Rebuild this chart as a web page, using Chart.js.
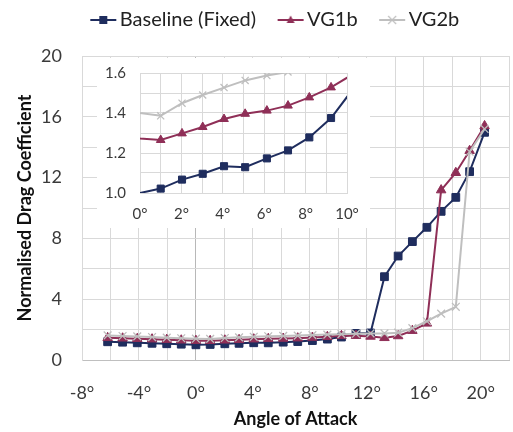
<!DOCTYPE html>
<html>
<head>
<meta charset="utf-8">
<script src="https://cdn.jsdelivr.net/npm/chart.js@4.4.0/dist/chart.umd.min.js"></script>
<style>
  html, body { margin: 0; padding: 0; overflow: hidden; background: #fff; }
  #wrap { position: relative; width: 513px; height: 432px; overflow: hidden; }
  #mainChart { position: absolute; left: 0; top: 0; }
  #insetChart { position: absolute; left: 97px; top: 58px; background: #fff; }
</style>
</head>
<body>
<div id="wrap">
  <canvas id="mainChart" width="516" height="432"></canvas>
  <canvas id="insetChart" width="273" height="170"></canvas>
</div>
<script>
// angle of attack (deg) for every measurement
const angles = [-6.2, -5.15, -4.12, -3.08, -2.05, -1.03, 0, 1.0, 2.03, 3.03, 4.06, 5.08, 6.13, 7.15,
                8.18, 9.23, 10.22, 11.24, 12.26, 13.24, 14.2, 15.2, 16.22, 17.22, 18.25, 19.22, 20.27];
const baseline = [1.20, 1.17, 1.13, 1.10, 1.07, 1.04, 1.00, 1.022, 1.067, 1.096, 1.134, 1.129, 1.173, 1.213,
                  1.278, 1.375, 1.51, 1.75, 1.78, 5.48, 6.84, 7.79, 8.73, 9.78, 10.70, 12.39, 14.98];
const vg1b = [1.46, 1.43, 1.40, 1.37, 1.34, 1.30, 1.273, 1.265, 1.298, 1.33, 1.37, 1.396, 1.412, 1.437,
              1.478, 1.528, 1.59, 1.60, 1.55, 1.46, 1.58, 1.93, 2.41, 11.18, 12.32, 13.77, 15.40];
const vg2b = [1.62, 1.58, 1.55, 1.51, 1.47, 1.43, 1.40, 1.386, 1.449, 1.49, 1.527, 1.563, 1.587, 1.605,
              1.64, 1.67, 1.70, 1.73, 1.75, 1.75, 1.80, 2.10, 2.55, 3.05, 3.50, 13.70, 15.20];

const seriesNames = ['Baseline (Fixed)', 'VG1b', 'VG2b'];
const seriesValues = [baseline, vg1b, vg2b];
const seriesColors = ['#1F2D5E', '#8F2F57', '#BFBFBF'];
const seriesMarkers = ['rect', 'triangle', 'crossRot'];

// labelled ticks (grid lines are drawn at half these steps)
const mainXLabels = [-8, -4, 0, 4, 8, 12, 16, 20];
const mainYLabels = [0, 4, 8, 12, 16, 20];
const insetXLabels = [0, 2, 4, 6, 8, 10];
const insetYLabels = [1.0, 1.2, 1.4, 1.6];

Chart.defaults.font.family = 'Lato, "Open Sans", sans-serif';
Chart.defaults.color = '#3a3a3a';
Chart.defaults.animation = false;

const hasLabel = (list, v) => list.some(l => Math.abs(l - v) < 1e-6);

function legendIcon(color, style) {
  const c = document.createElement('canvas');
  c.width = 48; c.height = 16;
  const g = c.getContext('2d');
  g.strokeStyle = color; g.fillStyle = color; g.lineWidth = 2;
  g.beginPath(); g.moveTo(20, 8); g.lineTo(46, 8); g.stroke();
  const cx = 33, cy = 8;
  if (style === 'rect') {
    g.fillRect(cx - 4, cy - 4, 8, 8);
  } else if (style === 'triangle') {
    g.beginPath(); g.moveTo(cx, cy - 4.5); g.lineTo(cx + 4, cy + 3); g.lineTo(cx - 4, cy + 3); g.closePath(); g.fill();
  } else {
    g.lineWidth = 1.2;
    g.beginPath(); g.moveTo(cx - 4, cy - 4); g.lineTo(cx + 4, cy + 4);
    g.moveTo(cx + 4, cy - 4); g.lineTo(cx - 4, cy + 4); g.stroke();
  }
  return c;
}
const icons = seriesColors.map((c, i) => legendIcon(c, seriesMarkers[i]));

function makeDatasets(radius, hideAtZero) {
  return seriesNames.map((name, i) => ({
    label: name,
    data: angles.map((a, j) => ({ x: a, y: seriesValues[i][j] })),
    showLine: true,
    borderColor: seriesColors[i],
    backgroundColor: seriesColors[i],
    borderWidth: 2,
    pointStyle: seriesMarkers[i],
    pointRadius: hideAtZero ? (ctx => (ctx.raw && ctx.raw.x <= 0 ? 0 : radius)) : radius,
    pointBorderWidth: seriesMarkers[i] === 'crossRot' ? 1.3 : 1,
    pointBackgroundColor: seriesColors[i],
    pointBorderColor: seriesColors[i],
    order: 3 - i
  }));
}

// taller legend box + nudge it right a little
const legendGap = {
  id: 'legendGap',
  beforeInit(chart) {
    const fit = chart.legend.fit;
    chart.legend.fit = function () {
      fit.bind(chart.legend)();
      this.height += 16;
    };
  },
  afterLayout(chart) {
    chart.legend.left += 22;
  }
};

new Chart(document.getElementById('mainChart').getContext('2d'), {
  type: 'scatter',
  data: { datasets: makeDatasets(5.5, false) },
  plugins: [legendGap],
  options: {
    responsive: false,
    layout: { padding: 0 },
    plugins: {
      tooltip: { enabled: false },
      legend: {
        position: 'top',
        labels: {
          font: { size: 20 },
          color: '#222',
          usePointStyle: true,
          pointStyleWidth: 31,
          boxHeight: 12,
          padding: 10,
          generateLabels: () => seriesNames.map((name, i) => ({
            text: name, pointStyle: icons[i], fillStyle: 'transparent', strokeStyle: 'transparent',
            lineWidth: 0, datasetIndex: i, hidden: false, fontColor: '#222'
          }))
        }
      }
    },
    scales: {
      x: {
        type: 'linear', min: -8, max: 22,
        afterFit: s => { s.height = 72; s.paddingRight = 0; },
        ticks: {
          stepSize: 2, padding: 22, font: { size: 18 }, maxRotation: 0, autoSkip: false,
          callback: v => hasLabel(mainXLabels, v) ? v + '°' : ''
        },
        grid: {
          drawTicks: false,
          color: ctx => (ctx.tick && ctx.tick.value === 0 ? '#b8b8b8' : '#d9d9d9')
        },
        border: { color: '#bfbfbf' },
        title: {
          display: true, text: 'Angle of Attack', color: '#111',
          font: { size: 18, weight: 'bold' }, padding: { top: 0, bottom: 2 }
        }
      },
      y: {
        min: 0, max: 20,
        afterFit: s => { s.width = 82; },
        ticks: {
          stepSize: 2, padding: 20, font: { size: 18 }, autoSkip: false,
          callback: v => hasLabel(mainYLabels, v) ? v : ''
        },
        grid: { drawTicks: false, color: '#d9d9d9' },
        border: { color: '#d9d9d9' },
        title: {
          display: true, text: 'Normalised Drag Coefficient', color: '#111',
          font: { size: 18, weight: 'bold' }, padding: { top: 14, bottom: 0 }
        }
      }
    }
  }
});

new Chart(document.getElementById('insetChart').getContext('2d'), {
  type: 'scatter',
  data: { datasets: makeDatasets(5, true) },
  options: {
    responsive: false,
    layout: { padding: { top: 15, right: 23, left: 0, bottom: 0 } },
    plugins: { legend: { display: false }, tooltip: { enabled: false } },
    scales: {
      x: {
        type: 'linear', min: 0, max: 10,
        afterFit: s => { s.height = 35; s.paddingRight = 0; },
        ticks: {
          stepSize: 1, padding: 12, font: { size: 15 }, maxRotation: 0, autoSkip: false,
          callback: v => hasLabel(insetXLabels, v) ? v + '°' : ''
        },
        grid: { drawTicks: false, color: '#d9d9d9' },
        border: { color: '#d9d9d9' }
      },
      y: {
        min: 1.0, max: 1.6,
        afterFit: s => { s.width = 43; s.paddingTop = 0; s.paddingBottom = 0; },
        ticks: {
          stepSize: 0.1, padding: 14, font: { size: 15 }, autoSkip: false,
          callback: v => hasLabel(insetYLabels, v) ? v.toFixed(1) : ''
        },
        grid: { drawTicks: false, color: '#d9d9d9' },
        border: { color: '#d9d9d9' }
      }
    }
  }
});
</script>
</body>
</html>
